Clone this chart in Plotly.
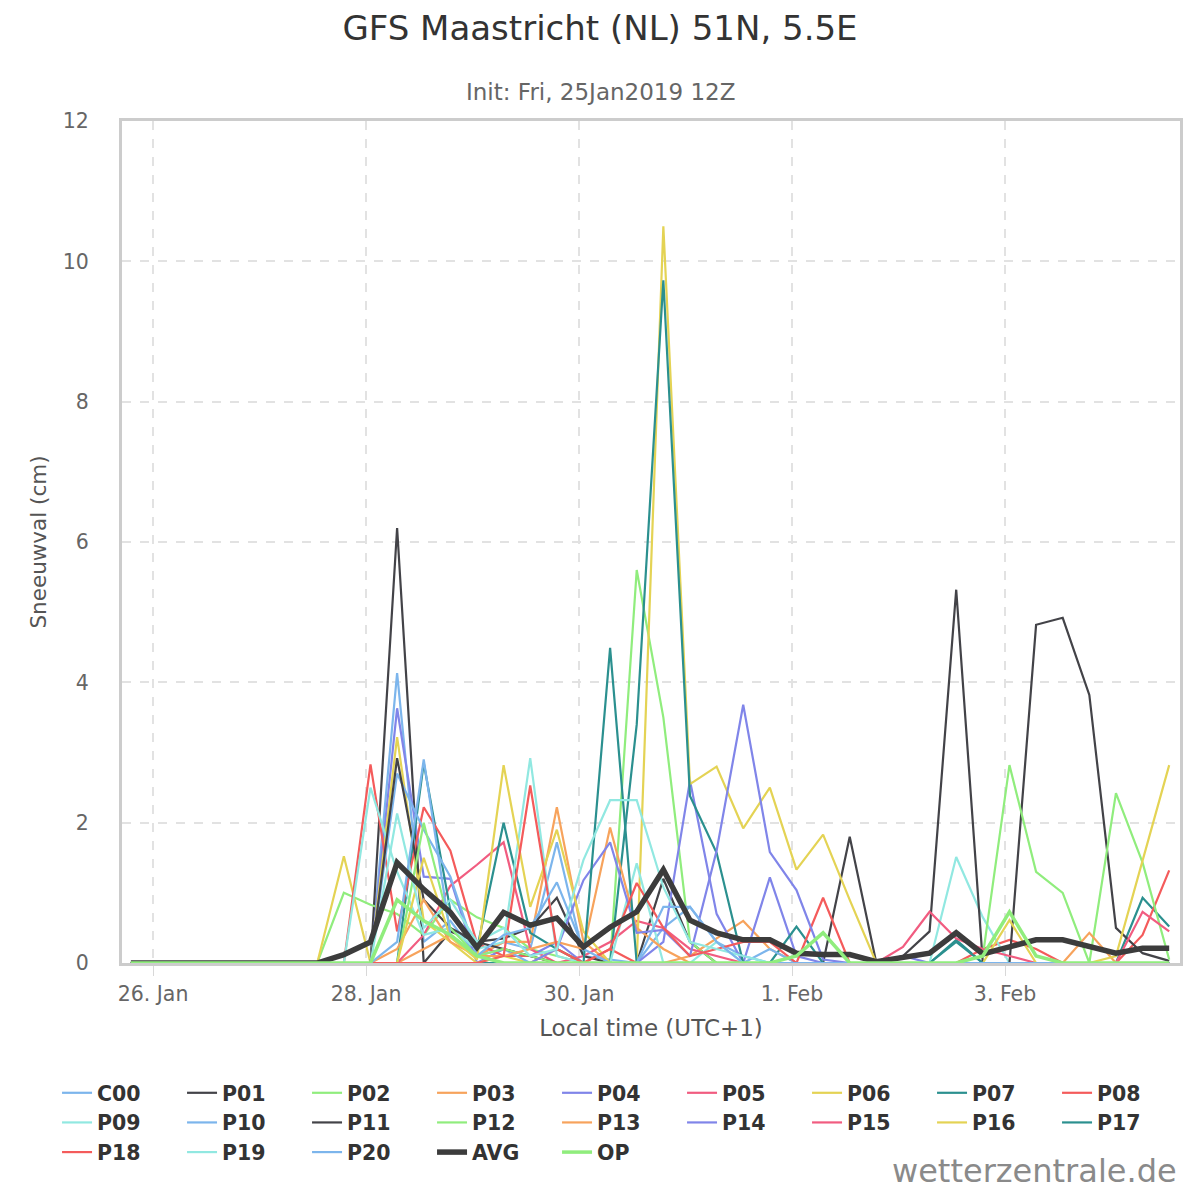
import pandas as pd
import plotly.graph_objects as go

# GFS ensemble snowfall, Maastricht, init 25 Jan 2019 12Z, 6-hourly steps (local time)
times = pd.date_range("2019-01-25 19:00", periods=40, freq="6h")

C00 = [0, 0, 0, 0, 0, 0, 0, 0, 0, 0,
       4.13, 0.3, 0.6, 0.1, 0.3, 0.2, 1.72, 0.1, 0.05, 0,
       0.5, 0.8, 0.3, 0.1, 0, 0, 0, 0, 0, 0,
       0, 0, 0, 0, 0, 0, 0, 0, 0, 0]
P01 = [0, 0, 0, 0, 0, 0, 0, 0, 0, 0,
       6.2, 0, 0.45, 0.3, 0.35, 0.5, 0.93, 0.1, 0, 0,
       1.2, 0.3, 0, 0, 0, 0, 0, 1.8, 0, 0,
       0, 0, 0, 0, 0, 0, 0, 0, 0, 0]
P02 = [0, 0, 0, 0, 0, 0, 0, 0, 1.0, 0.83,
       0.7, 0.4, 0.9, 0.65, 0.5, 0.2, 0.1, 0, 0, 5.6,
       3.5, 0.3, 0, 0, 0, 0, 0, 0, 0, 0,
       0, 0, 0, 0, 0, 0, 0, 0, 0, 0]
P03 = [0, 0, 0, 0, 0, 0, 0, 0, 0, 0,
       0, 0.2, 0.4, 0.1, 0.3, 0.3, 2.22, 0.3, 0, 0,
       0, 0.1, 0.35, 0.6, 0.2, 0, 0, 0, 0, 0,
       0, 0, 0, 0, 0, 0, 0, 0, 0, 0]
P04 = [0, 0, 0, 0, 0, 0, 0, 0, 0, 0,
       3.63, 1.23, 1.2, 0, 0.2, 0.1, 0.3, 0, 0, 0,
       0.3, 2.6, 0.7, 0, 1.22, 0.1, 0, 0, 0, 0.1,
       0, 0, 0, 0, 0, 0, 0, 0, 0, 0]
P05 = [0, 0, 0, 0, 0, 0, 0, 0, 0, 0,
       0, 0.4, 1.1, 1.4, 1.72, 0.2, 0, 0.1, 0.3, 0.6,
       0.5, 0.2, 0.1, 0, 0, 0, 0, 0, 0, 0,
       0, 0, 0, 0, 0, 0, 0, 0, 0, 0]
P06 = [0, 0, 0, 0, 0, 0, 0, 0, 1.52, 0,
       3.22, 0.6, 0.3, 0, 0.1, 0, 0.2, 0, 0, 0,
       10.5, 2.55, 2.8, 1.92, 2.5, 1.33, 1.83, 0.9, 0, 0,
       0, 0, 0, 0, 0, 0, 0, 0, 0, 0]
P07 = [0, 0, 0, 0, 0, 0, 0, 0, 0, 0,
       0, 2.85, 0.75, 0.2, 2.0, 0.43, 0.2, 0, 0, 3.4,
       9.73, 2.38, 1.57, 0, 0, 0.52, 0, 0, 0, 0,
       0, 0.33, 0, 0, 0, 0, 0, 0, 0.93, 0.52]
P08 = [0, 0, 0, 0, 0, 0, 0, 0, 0, 2.83,
       0.45, 2.22, 1.6, 0.28, 0.1, 0.1, 0, 0, 0.2, 0,
       0, 0, 0, 0, 0, 0, 0.93, 0, 0, 0,
       0, 0, 0.2, 0.33, 0.2, 0, 0, 0, 0.4, 1.32]
P09 = [0, 0, 0, 0, 0, 0, 0, 0, 0, 2.5,
       1.3, 0.4, 0.5, 0.2, 0.3, 2.92, 0.1, 0, 0, 1.42,
       0, 0, 0.3, 0, 0, 0, 0, 0, 0, 0,
       0, 1.51, 0.65, 0, 0, 0, 0, 0, 0, 0]
P10 = [0, 0, 0, 0, 0, 0, 0, 0, 0, 0,
       2.7, 1.9, 1.23, 0.1, 0.2, 0, 0, 0, 0, 0,
       0, 0, 0, 0, 0.2, 0, 0, 0, 0, 0,
       0, 0, 0, 0, 0, 0, 0, 0, 0, 0]
P11 = [0, 0, 0, 0, 0, 0, 0, 0, 0, 0,
       2.92, 0.9, 0.5, 0.3, 0.2, 0.1, 0, 0, 0, 0,
       0, 0, 0, 0, 0, 0, 0, 0, 0, 0.1,
       0.45, 5.32, 0, 0, 4.82, 4.92, 3.82, 0.5, 0.14, 0.03]
P12 = [0, 0, 0, 0, 0, 0, 0, 0, 0, 0,
       0, 2.0, 0.5, 0.1, 0.2, 0.1, 0, 0, 0, 0,
       0, 0, 0, 0, 0, 0, 0, 0, 0, 0,
       0, 0, 0.1, 2.82, 1.3, 1.0, 0, 2.42, 1.43, 0.05]
P13 = [0, 0, 0, 0, 0, 0, 0, 0, 0, 0,
       0.2, 0.9, 0.3, 0.1, 0.1, 0.2, 0.3, 0.2, 1.93, 0.5,
       0.2, 0, 0, 0, 0, 0, 0, 0, 0, 0,
       0, 0, 0, 0, 0, 0, 0.43, 0, 0, 0]
P14 = [0, 0, 0, 0, 0, 0, 0, 0, 0, 0,
       0, 0, 0, 0, 0, 0, 0.2, 1.18, 1.72, 0.43,
       0.47, 0.1, 1.6, 3.68, 1.58, 1.04, 0.05, 0, 0, 0,
       0, 0, 0, 0, 0, 0, 0, 0, 0, 0]
P15 = [0, 0, 0, 0, 0, 0, 0, 0, 0, 0,
       0, 0, 0, 0, 0, 0, 0, 0, 0, 0,
       0, 0, 0, 0, 0, 0, 0, 0, 0, 0.23,
       0.73, 0.35, 0.2, 0.1, 0, 0, 0, 0, 0.73, 0.45]
P16 = [0, 0, 0, 0, 0, 0, 0, 0, 0, 0,
       0, 1.5, 0.37, 0.05, 2.82, 0.8, 1.9, 0.45, 0, 0,
       0, 0, 0, 0, 0, 0, 0, 0, 0, 0,
       0, 0, 0, 0.61, 0, 0, 0, 0.1, 1.47, 2.82]
P17 = [0, 0, 0, 0, 0, 0, 0, 0, 0, 0,
       0, 0, 0, 0, 0, 0, 0, 0, 4.49, 0,
       0, 0, 0, 0, 0, 0, 0, 0, 0, 0,
       0, 0.3, 0, 0, 0, 0, 0, 0, 0, 0]
P18 = [0, 0, 0, 0, 0, 0, 0, 0, 0, 0,
       0, 0, 0, 0, 0.1, 2.53, 0.2, 0, 0.2, 1.14,
       0.5, 0.1, 0.2, 0.3, 0.3, 0, 0, 0, 0, 0,
       0, 0, 0, 0, 0, 0, 0, 0, 0, 0]
P19 = [0, 0, 0, 0, 0, 0, 0, 0, 0, 0,
       2.13, 0.5, 0.9, 0.3, 0.5, 0.1, 0.2, 1.47, 2.32, 2.32,
       1.08, 0.3, 0.2, 0.1, 0, 0, 0, 0, 0, 0,
       0, 0, 0, 0, 0, 0, 0, 0, 0, 0]
P20 = [0, 0, 0, 0, 0, 0, 0, 0, 0, 0,
       0.3, 2.9, 0.4, 0.1, 0.4, 0.5, 1.15, 0.2, 0, 0,
       0.8, 0.8, 0.3, 0, 0, 0, 0, 0, 0, 0,
       0, 0, 0, 0, 0, 0, 0, 0, 0, 0]
AVG = [0, 0, 0, 0, 0, 0, 0, 0, 0.12, 0.3,
       1.43, 1.05, 0.72, 0.22, 0.72, 0.54, 0.64, 0.23, 0.51, 0.73,
       1.33, 0.61, 0.43, 0.33, 0.33, 0.14, 0.12, 0.12, 0.02, 0.08,
       0.14, 0.43, 0.13, 0.23, 0.33, 0.33, 0.23, 0.14, 0.21, 0.21]
OP = [0, 0, 0, 0, 0, 0, 0, 0, 0, 0,
      0.9, 0.6, 0.4, 0.1, 0, 0, 0, 0, 0, 0,
      0, 0, 0, 0, 0, 0.1, 0.43, 0, 0, 0,
      0, 0, 0.1, 0.73, 0.1, 0, 0, 0, 0, 0]

members = {
    "C00": C00, "P01": P01, "P02": P02, "P03": P03, "P04": P04, "P05": P05,
    "P06": P06, "P07": P07, "P08": P08, "P09": P09, "P10": P10, "P11": P11,
    "P12": P12, "P13": P13, "P14": P14, "P15": P15, "P16": P16, "P17": P17,
    "P18": P18, "P19": P19, "P20": P20,
}

tick_vals = ["2019-01-26", "2019-01-28", "2019-01-30", "2019-02-01", "2019-02-03"]
tick_text = ["26. Jan", "28. Jan", "30. Jan", "1. Feb", "3. Feb"]

palette = ["#7cb5ec", "#434348", "#90ed7d", "#f7a35c", "#8085e9",
           "#f15c80", "#e4d354", "#2b908f", "#f45b5b", "#91e8e1"]

FONT = "DejaVu Sans"

fig = go.Figure()

for k, (name, vals) in enumerate(members.items()):
    fig.add_trace(go.Scatter(
        x=times, y=vals, mode="lines", name=name,
        line=dict(color=palette[k % 10], width=2.2),
    ))

fig.add_trace(go.Scatter(
    x=times, y=AVG, mode="lines", name="AVG",
    line=dict(color="#3c3c3c", width=5.5),
))
fig.add_trace(go.Scatter(
    x=times, y=OP, mode="lines", name="OP",
    line=dict(color="#90ed7d", width=3.5),
))

# page body adds an 8px offset, so the figure is a bit smaller than the window
fig.update_layout(
    width=1184, height=1184,
    margin=dict(l=114, r=12, t=113, b=229, autoexpand=False),
    paper_bgcolor="white", plot_bgcolor="white",
    font=dict(family=FONT, color="#666666"),
    title=dict(
        text="GFS Maastricht (NL) 51N, 5.5E",
        x=0.5, xanchor="center", y=0.983, yanchor="middle",
        font=dict(family=FONT, size=34, color="#333333"),
    ),
    showlegend=True,
    legend=dict(
        orientation="h", x=-0.0614, xanchor="left", y=-0.1306, yanchor="top",
        entrywidth=80, entrywidthmode="pixels",
        font=dict(family=FONT, size=20.5, color="#333333", weight="bold"),
        tracegroupgap=0, itemclick=False,
    ),
    xaxis=dict(
        type="date",
        range=["2019-01-25 17:00", "2019-02-04 15:26"],
        tickvals=tick_vals, ticktext=tick_text,
        tickfont=dict(size=20.5, color="#666666"),
        ticks="outside", ticklen=10, tickcolor="#d8d8d8", tickwidth=1,
        showgrid=True, gridcolor="#e2e2e2", griddash="dash", gridwidth=1.5,
        showline=True, mirror=True, linecolor="#cccccc", linewidth=3,
        zeroline=False,
        title=dict(text="Local time (UTC+1)", font=dict(size=23, color="#555555"), standoff=16),
    ),
    yaxis=dict(
        range=[0, 12], dtick=2,
        tickfont=dict(size=20.5, color="#666666"),
        ticklabelstandoff=26,
        showgrid=True, gridcolor="#e2e2e2", griddash="dash", gridwidth=1.5,
        showline=True, mirror=True, linecolor="#cccccc", linewidth=3,
        zeroline=False,
        title=dict(text="Sneeuwval (cm)", font=dict(size=21.5, color="#555555"), standoff=11),
    ),
    annotations=[
        dict(text="Init: Fri, 25Jan2019 12Z", xref="paper", yref="paper",
             x=0.4518, y=1.0344, xanchor="center", yanchor="middle", showarrow=False,
             font=dict(family=FONT, size=23, color="#666666")),
        dict(text="wetterzentrale.de", xref="paper", yref="paper",
             x=0.998, y=-0.247, xanchor="right", yanchor="middle", showarrow=False,
             borderpad=0,
             font=dict(family=FONT, size=32, color="#8a8a8a")),
    ],
)

fig.write_html("out.html")
